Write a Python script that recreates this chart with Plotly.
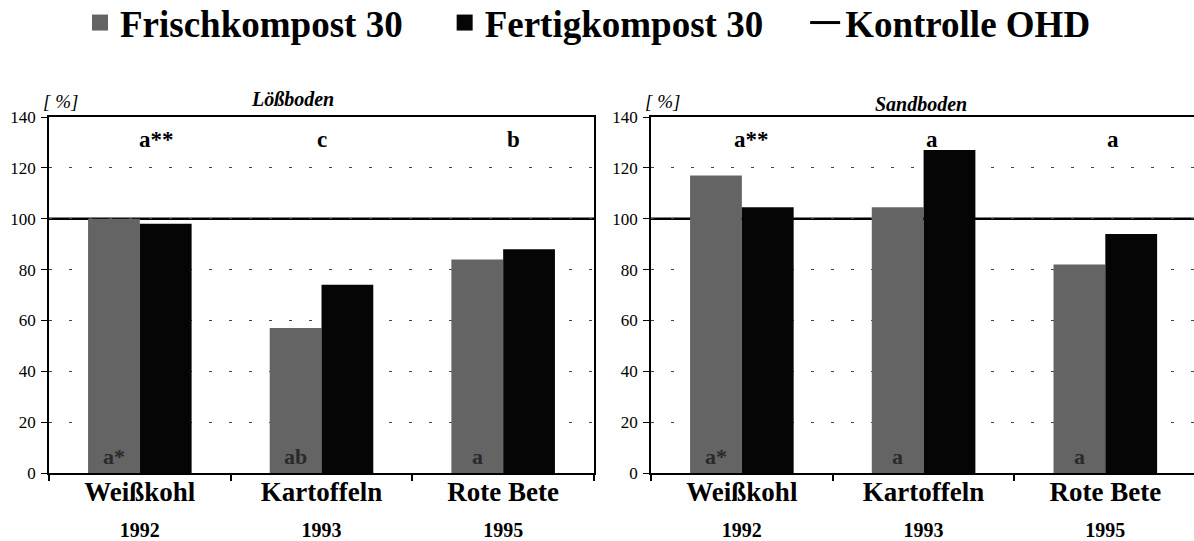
import plotly.graph_objects as go

# ---------------- data ----------------
crops = ["Weißkohl", "Kartoffeln", "Rote Bete"]
years = ["1992", "1993", "1995"]

loess_frisch = [100, 57, 84]
loess_fertig = [98, 74, 88]
sand_frisch = [117, 104.5, 82]
sand_fertig = [104.5, 127, 94]
control_value = 100

loess_top_letters = ["a**", "c", "b"]
loess_bottom_letters = ["a*", "ab", "a"]
sand_top_letters = ["a**", "a", "a"]
sand_bottom_letters = ["a*", "a", "a"]

y_ticks = [0, 20, 40, 60, 80, 100, 120, 140]

# ---------------- style ----------------
SERIF = "Liberation Serif, Times New Roman, serif"
FRISCH_COLOR = "#646464"
FERTIG_COLOR = "#050505"
NB = "\u00a0"

cat_labels = [
    f"<b>{c}</b><br><b><span style='font-size:20px'>{y}</span></b>"
    for c, y in zip(crops, years)
]

fig = go.Figure()

panels = [
    ("x", "y", loess_frisch, loess_fertig),
    ("x2", "y2", sand_frisch, sand_fertig),
]
for xa, ya, fr, fe in panels:
    fig.add_trace(go.Bar(x=cat_labels, y=fr, name="Frischkompost 30",
                         marker=dict(color=FRISCH_COLOR, line=dict(width=0)),
                         xaxis=xa, yaxis=ya, showlegend=False))
    fig.add_trace(go.Bar(x=cat_labels, y=fe, name="Fertigkompost 30",
                         marker=dict(color=FERTIG_COLOR, line=dict(width=0)),
                         xaxis=xa, yaxis=ya, showlegend=False))

# legend entries (large square keys like the reference)
fig.add_trace(go.Scatter(x=[None], y=[None], mode="markers", name="Frischkompost 30" + NB * 4,
                         marker=dict(symbol="square", size=16, color=FRISCH_COLOR),
                         legendrank=1, xaxis="x", yaxis="y"))
fig.add_trace(go.Scatter(x=[None], y=[None], mode="markers", name="Fertigkompost 30" + NB * 4,
                         marker=dict(symbol="square", size=16, color=FERTIG_COLOR),
                         legendrank=2, xaxis="x", yaxis="y"))
fig.add_trace(go.Scatter(x=[None], y=[None], mode="lines", name="Kontrolle OHD",
                         line=dict(color="black", width=3), legendrank=3,
                         xaxis="x", yaxis="y"))

# control line shapes
for xr, yr in [("x domain", "y"), ("x2 domain", "y2")]:
    fig.add_shape(type="line", xref=xr, yref=yr, x0=0, x1=1,
                  y0=control_value, y1=control_value,
                  line=dict(color="black", width=2.5), layer="below")

axis_common = dict(
    showline=True, linecolor="black", linewidth=2, mirror=True,
    ticks="outside", ticklen=6, tickcolor="black", tickwidth=1.5,
    tickson="boundaries", showgrid=False, zeroline=False,
    tickfont=dict(family=SERIF, size=27, color="black"),
    automargin=False, ticklabelstandoff=-6,
)
yaxis_common = dict(
    range=[0, 140], tickvals=y_ticks, showline=True, linecolor="black",
    linewidth=1.8, ticks="outside", ticklen=6, tickcolor="black", tickwidth=1.3,
    tickfont=dict(family=SERIF, size=17, color="black"),
    showgrid=True, gridcolor="#444444", gridwidth=1, griddash="3px,17px",
    zeroline=False, automargin=False, ticklabelstandoff=2,
)

W, H = 1194, 541
yd = [1 - 473 / H, 1 - 117 / H]

fig.update_layout(
    width=W, height=H,
    margin=dict(l=0, r=0, t=0, b=0, autoexpand=False),
    paper_bgcolor="white", plot_bgcolor="white",
    barmode="group", bargap=0.43, bargroupgap=0,
    font=dict(family=SERIF, color="black"),
    xaxis=dict(domain=[49 / W, 594 / W], anchor="y", range=[-0.5, 2.5], **axis_common),
    xaxis2=dict(domain=[651 / W, 1.0], anchor="y2", range=[-0.5, 2.488], **axis_common),
    yaxis=dict(domain=yd, anchor="x", mirror=True, **yaxis_common),
    yaxis2=dict(domain=yd, anchor="x2", mirror=False, **yaxis_common),
    legend=dict(orientation="h", x=80 / W, xanchor="left", y=1 + 8 / H, yanchor="top",
                font=dict(family=SERIF, size=37, color="black", weight="bold"),
                traceorder="normal", bgcolor="rgba(0,0,0,0)", itemsizing="trace"),
    showlegend=True,
)

annotations = []
top_shift = {"x": [17, 0, 10], "x2": [10, 8, 8]}
for xa, ya, tops, bottoms in [("x", "y", loess_top_letters, loess_bottom_letters),
                              ("x2", "y2", sand_top_letters, sand_bottom_letters)]:
    for i, (t, b) in enumerate(zip(tops, bottoms)):
        annotations.append(dict(xref=xa, yref=ya, x=i, y=131, text=f"<b>{t}</b>",
                                showarrow=False, xshift=top_shift[xa][i],
                                xanchor="center", yanchor="middle",
                                font=dict(family=SERIF, size=23, color="black")))
        annotations.append(dict(xref=xa, yref=ya, x=i, y=6.5, text=f"<b>{b}</b>",
                                showarrow=False, xshift=-26,
                                xanchor="center", yanchor="middle",
                                font=dict(family=SERIF, size=22, color="#2a2a2a")))

# panel titles and unit labels
annotations += [
    dict(xref="paper", yref="paper", x=292 / W, y=1 - 99 / H, text="<b><i>Lößboden</i></b>",
         xanchor="center", yanchor="middle",
         showarrow=False, font=dict(family=SERIF, size=20, color="black")),
    dict(xref="paper", yref="paper", x=921 / W, y=1 - 104 / H, text="<b><i>Sandboden</i></b>",
         xanchor="center", yanchor="middle",
         showarrow=False, font=dict(family=SERIF, size=20, color="black")),
    dict(xref="x domain", yref="paper", x=0, y=1 - 101 / H, xanchor="left", yanchor="middle",
         xshift=-8, text="<i>[ %]</i>", showarrow=False,
         font=dict(family=SERIF, size=19, color="black")),
    dict(xref="x2 domain", yref="paper", x=0, y=1 - 101 / H, xanchor="left", yanchor="middle",
         xshift=-8, text="<i>[ %]</i>", showarrow=False,
         font=dict(family=SERIF, size=19, color="black")),
]
fig.update_layout(annotations=annotations)

fig.write_html("out.html", config={"displayModeBar": False},
               post_script="document.body.style.margin='0px';document.body.style.overflow='hidden';")
